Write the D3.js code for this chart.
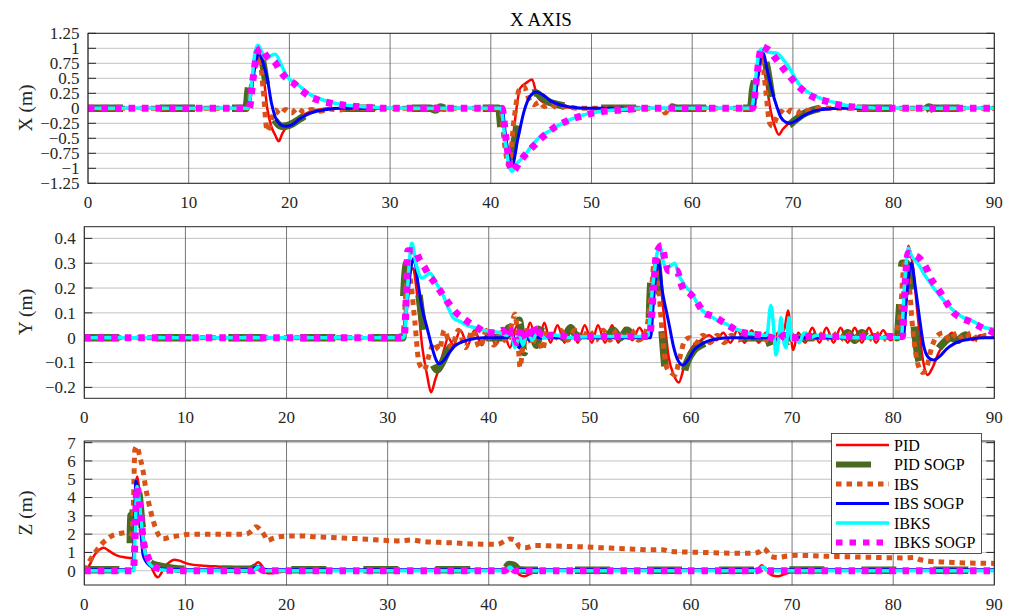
<!DOCTYPE html>
<html>
<head>
<meta charset="utf-8">
<script src="https://cdn.jsdelivr.net/npm/d3@7"></script>
<style>
  html, body { margin: 0; padding: 0; background: #ffffff; }
  svg { display: block; }
  svg text { font-family: "Liberation Serif", "Times New Roman", serif; }
</style>
</head>
<body>
<svg id="chart" width="1015" height="615"></svg>
<script>
// ---------- tick values and labels ----------
const timeTicks = [0, 10, 20, 30, 40, 50, 60, 70, 80, 90];
const xPosTicks = [-1.25, -1, -0.75, -0.5, -0.25, 0, 0.25, 0.5, 0.75, 1, 1.25];
const xPosLabels = ["\u22121.25", "\u22121", "\u22120.75", "\u22120.5", "\u22120.25", "0", "0.25", "0.5", "0.75", "1", "1.25"];
const yPosTicks = [-0.2, -0.1, 0, 0.1, 0.2, 0.3, 0.4];
const yPosLabels = ["\u22120.2", "\u22120.1", "0", "0.1", "0.2", "0.3", "0.4"];
const zPosTicks = [0, 1, 2, 3, 4, 5, 6, 7];
const zPosLabels = ["0", "1", "2", "3", "4", "5", "6", "7"];

const seriesNames = ["PID", "PID SOGP", "IBS", "IBS SOGP", "IBKS", "IBKS SOGP"];

// ---------- X position [time s, metres] ----------
const xPID = [[0,0],[15.8,0],[16.2,0.3],[16.6,0.8],[17.0,0.95],[17.4,0.6],[17.8,0.0],[18.2,-0.3],[18.6,-0.45],[18.95,-0.55],[19.3,-0.42],[19.7,-0.32],[20.3,-0.25],[21,-0.15],[22,-0.06],[23,-0.02],[24,0],[41.0,0],[41.4,-0.4],[41.9,-0.9],[42.4,-0.2],[42.9,0.33],[43.5,0.42],[44.1,0.48],[44.6,0.2],[45.2,0.1],[46,0.06],[47,0.03],[48,0.01],[49,0],[66.0,0],[66.5,0.5],[66.9,0.88],[67.3,0.5],[67.8,-0.05],[68.2,-0.3],[68.6,-0.44],[69.0,-0.35],[69.6,-0.25],[70.3,-0.17],[71,-0.08],[72,-0.02],[73,0],[90,0]];
const xPIDSOGP = [[0,0],[15.7,0],[15.9,0.3],[16.3,0.55],[16.9,0.95],[17.3,0.8],[17.8,0.3],[18.3,-0.1],[18.8,-0.25],[19.3,-0.3],[20,-0.28],[21,-0.18],[22,-0.08],[23,-0.02],[24,0],[34,0],[34.5,-0.03],[35,0.02],[35.5,0],[40.8,0],[41.0,-0.3],[41.5,-0.6],[41.9,-0.88],[42.4,-0.5],[43,-0.05],[43.7,0.2],[44.4,0.26],[45,0.2],[45.6,0.12],[46.2,0.08],[47,0.05],[48,0.02],[49,0],[57,0],[57.5,-0.04],[58,0.02],[58.5,0],[65.8,0],[66.0,0.3],[66.4,0.55],[67.0,0.9],[67.4,0.7],[67.9,0.2],[68.4,-0.15],[69,-0.26],[69.5,-0.28],[70.2,-0.2],[71,-0.1],[72,-0.03],[73,0],[81.5,0],[82,-0.04],[82.5,0.03],[83,-0.03],[83.5,0.02],[84,0],[89,0],[89.6,0.03],[90,0.02]];
const xIBS = [[0,0],[15.8,0],[16.2,0.35],[16.6,0.75],[17.0,0.9],[17.4,0.3],[17.8,-0.38],[18.2,-0.2],[18.6,-0.03],[19.1,-0.1],[19.6,-0.02],[20.2,-0.08],[20.8,0],[21.5,-0.07],[22.2,-0.02],[23,-0.05],[24,-0.01],[25,-0.03],[26,0],[33.5,0],[33.9,-0.06],[34.5,0.02],[35.2,-0.02],[36,0],[41.0,0],[41.3,-0.5],[41.8,-0.95],[42.3,-0.2],[42.8,0.3],[43.3,0.36],[43.8,0.15],[44.3,0.06],[44.8,0.1],[45.3,0.03],[46,0.06],[46.7,0],[47.5,0.03],[48.5,0],[57,0],[57.3,-0.08],[57.8,0.02],[58.5,-0.02],[59.2,0],[66.0,0],[66.4,0.45],[66.9,0.85],[67.3,0.3],[67.7,-0.25],[68.0,-0.3],[68.4,-0.15],[68.8,-0.05],[69.3,-0.1],[69.8,-0.03],[70.4,-0.08],[71,-0.02],[71.8,-0.05],[72.6,0],[83,0],[83.5,-0.05],[84.2,0.02],[85,0],[90,0]];
const xIBSSOGP = [[0,0],[15.9,0],[16.3,0.4],[16.7,0.8],[17.0,0.93],[17.4,0.75],[17.8,0.5],[18.2,0.1],[18.6,-0.15],[19.1,-0.27],[19.6,-0.3],[20.2,-0.28],[21,-0.18],[21.8,-0.1],[22.7,-0.05],[23.7,-0.02],[25,0],[41.1,0],[41.5,-0.5],[42.1,-0.96],[42.7,-0.5],[43.3,-0.05],[43.9,0.2],[44.5,0.27],[45.2,0.22],[46,0.12],[47,0.05],[48,0.02],[49.5,0],[66.1,0],[66.5,0.5],[67.0,0.93],[67.5,0.6],[68.0,0.25],[68.4,0.03],[68.8,-0.15],[69.3,-0.23],[69.7,-0.25],[70.4,-0.2],[71.1,-0.12],[72,-0.05],[73,-0.02],[75,0],[90,0]];
const xIBKS = [[0,0],[15.9,0],[16.3,0.5],[16.6,0.95],[16.9,1.05],[17.3,0.92],[17.7,0.82],[18.2,0.88],[18.6,0.9],[19.2,0.72],[19.8,0.52],[20.8,0.4],[22,0.24],[23.5,0.13],[25,0.07],[27,0.03],[29,0.01],[31,0],[41.0,0],[41.4,-0.5],[41.8,-0.95],[42.1,-1.05],[42.6,-0.92],[43.3,-0.8],[44,-0.64],[44.6,-0.52],[45.2,-0.44],[46,-0.36],[47,-0.26],[48,-0.18],[49,-0.12],[50,-0.08],[51.5,-0.04],[53,-0.02],[55,0],[65.9,0],[66.3,0.5],[66.6,0.9],[66.85,0.99],[67.3,0.95],[67.8,0.93],[68.4,0.92],[69,0.82],[69.7,0.66],[70.3,0.48],[70.8,0.36],[71.5,0.27],[72.4,0.19],[73.3,0.13],[74.1,0.1],[75,0.06],[76,0.03],[77.5,0.01],[79,0],[90,0]];
const xIBKSSOGP = [[0,0],[16.0,0],[16.4,0.5],[16.8,0.92],[17.2,1.0],[17.6,0.9],[18.0,0.82],[18.5,0.78],[19.1,0.62],[19.7,0.5],[20.4,0.42],[21.2,0.3],[22,0.2],[23,0.13],[24.3,0.08],[25.5,0.05],[26.6,0.03],[28,0.01],[30,0],[41.1,0],[41.5,-0.5],[41.9,-0.95],[42.2,-1.05],[42.9,-0.88],[43.6,-0.74],[44.3,-0.62],[45,-0.5],[45.7,-0.4],[46.4,-0.31],[47.2,-0.24],[48,-0.18],[48.8,-0.14],[49.6,-0.1],[50.5,-0.07],[52,-0.04],[53.5,-0.02],[55,0],[66.0,0],[66.4,0.5],[66.7,0.9],[66.95,1.03],[67.3,1.0],[67.7,0.96],[68.2,0.85],[68.7,0.74],[69.2,0.63],[69.6,0.55],[70.1,0.45],[70.6,0.36],[71.3,0.26],[72,0.19],[72.8,0.14],[73.5,0.11],[74.2,0.07],[74.8,0.05],[75.5,0.03],[76.2,0.02],[77.5,0],[90,0]];

// ---------- Y position ----------
const yPID = [[0,0],[31.5,0],[31.8,0.15],[32.1,0.25],[32.5,0.28],[32.9,0.18],[33.4,-0.03],[33.9,-0.15],[34.3,-0.22],[34.7,-0.17],[35.1,-0.12],[35.5,-0.06],[36.0,0.0],[36.5,-0.03],[37.2,0.03],[37.9,-0.03],[38.6,0.03],[39.3,-0.03],[40.0,0.03],[40.7,-0.03],[41.4,0.03],[42.1,-0.04],[42.8,0.05],[43.4,-0.05],[44.1,0.06],[44.8,-0.04],[45.5,0.06],[46.1,-0.02],[46.8,0.05],[47.5,-0.02],[48.1,0.05],[48.8,-0.02],[49.5,0.05],[50.2,-0.02],[50.8,0.05],[51.5,-0.02],[52.2,0.05],[52.8,-0.02],[53.5,0.04],[54.2,-0.01],[54.9,0.04],[55.6,0.0],[56.0,0.1],[56.4,0.3],[56.8,0.28],[57.3,0.1],[57.8,-0.08],[58.3,-0.15],[58.8,-0.18],[59.3,-0.12],[59.8,-0.06],[60.3,-0.03],[61,-0.01],[61.8,0.01],[62.5,-0.01],[63.2,0.02],[63.9,-0.02],[64.6,0.03],[65.3,-0.02],[66,0.03],[66.7,-0.02],[67.4,0.02],[68,-0.01],[68.6,0.02],[69.2,0.03],[69.6,0.11],[70.1,-0.05],[70.6,0.02],[71.3,-0.02],[72,0.04],[72.7,-0.02],[73.4,0.04],[74.1,-0.02],[74.8,0.04],[75.5,-0.02],[76.2,0.04],[76.9,-0.02],[77.6,0.04],[78.3,-0.02],[79,0.03],[79.7,-0.01],[80.4,0.02],[80.9,0.1],[81.3,0.3],[81.5,0.37],[81.9,0.3],[82.4,0.1],[82.9,-0.08],[83.4,-0.15],[83.9,-0.12],[84.5,-0.06],[85.1,-0.02],[85.8,0.02],[86.5,-0.02],[87.2,0.02],[87.9,-0.01],[88.6,0.01],[89.3,0],[90,0]];
const yPIDSOGP = [[0,0],[31.5,0],[31.6,0.17],[31.9,0.3],[32.5,0.3],[32.9,0.23],[33.4,0.08],[33.9,-0.05],[34.4,-0.1],[34.9,-0.13],[35.4,-0.1],[36,-0.05],[36.7,-0.02],[37.5,0],[41.5,0],[42.0,0.04],[42.5,-0.03],[43.0,0.07],[43.5,-0.06],[44.1,0.06],[44.7,-0.03],[45.3,0.05],[46,0],[46.7,0.04],[47.4,0.0],[48.1,0.04],[48.8,0.0],[49.5,0.03],[50.2,0.0],[50.9,0.03],[51.6,0.0],[52.3,0.03],[53,0.0],[53.7,0.03],[54.4,0.0],[55.1,0.02],[55.8,0.02],[56.0,0.2],[56.3,0.34],[56.7,0.3],[57.1,0.05],[57.6,-0.15],[58.1,-0.13],[58.6,-0.14],[59.1,-0.16],[59.6,-0.1],[60.3,-0.05],[61,-0.03],[62,-0.01],[63,0],[67.5,0],[68,-0.04],[68.5,0.02],[69,-0.03],[69.5,0],[72,0],[72.7,0.02],[73.4,-0.01],[74.1,0.02],[74.8,-0.01],[75.5,0.02],[76.2,-0.01],[76.9,0.02],[77.6,0],[78.3,0.02],[79,0],[79.7,0.02],[80.4,0],[80.6,0.1],[80.9,0.3],[81.3,0.3],[81.7,0.22],[82.2,0.0],[82.6,-0.1],[83.0,-0.13],[83.5,-0.1],[84.2,-0.06],[85,-0.02],[85.7,0],[86.4,-0.01],[87.1,0.01],[88,0],[90,0]];
const yIBS = [[0,0],[31.5,0],[31.8,0.18],[32.0,0.28],[32.3,0.22],[32.7,0.06],[33.1,-0.1],[33.6,-0.13],[34.1,-0.07],[34.6,-0.02],[35.1,-0.05],[35.6,0.03],[36.3,-0.04],[37,0.03],[37.7,-0.04],[38.4,0.03],[39.1,-0.04],[39.8,0.03],[40.5,-0.03],[41.2,0.02],[41.8,-0.02],[42.3,0.06],[42.6,0.095],[42.9,-0.02],[43.1,-0.12],[43.4,-0.02],[43.8,0.03],[44.3,-0.03],[44.8,0.04],[45.3,-0.05],[45.8,0.03],[46.4,-0.01],[47.1,0.03],[47.8,-0.01],[48.5,0.03],[49.2,-0.01],[49.9,0.03],[50.6,-0.01],[51.3,0.03],[52,-0.01],[52.7,0.03],[53.4,-0.01],[54.1,0.03],[54.8,-0.01],[55.5,0.02],[56.0,0.15],[56.4,0.31],[56.8,0.2],[57.2,0.0],[57.6,-0.12],[58.0,-0.14],[58.4,-0.15],[58.9,-0.08],[59.4,-0.01],[59.9,0.0],[60.5,-0.02],[61.2,0.01],[61.9,-0.02],[62.6,0.01],[63.3,-0.02],[64,0.01],[64.7,-0.01],[65.4,0.01],[66.1,-0.01],[66.8,0.01],[67.5,-0.01],[68.2,-0.02],[68.9,0.02],[69.6,-0.02],[70.3,0.02],[71,-0.01],[71.7,0.02],[72.4,-0.01],[73.1,0.02],[73.8,-0.01],[74.5,0.02],[75.2,-0.01],[75.9,0.02],[76.6,-0.01],[77.3,0.02],[78,-0.01],[78.7,0.02],[79.4,-0.01],[80.1,0.01],[80.7,0.1],[81.1,0.3],[81.5,0.25],[81.9,0.05],[82.4,-0.1],[82.9,-0.14],[83.3,-0.12],[83.8,-0.04],[84.4,0.01],[85,0.02],[85.6,-0.01],[86.3,0.02],[87,-0.01],[87.7,0.02],[88.4,-0.01],[89.1,0.01],[90,0.01]];
const yIBSSOGP = [[0,0],[31.6,0],[31.9,0.12],[32.3,0.28],[32.6,0.32],[33.0,0.22],[33.4,0.12],[33.9,0.04],[34.4,-0.04],[34.8,-0.09],[35.1,-0.105],[35.6,-0.09],[36.1,-0.06],[36.6,-0.035],[37.2,-0.02],[38,-0.008],[39.5,0],[41.8,0],[42.2,0.02],[42.6,-0.01],[43.0,-0.04],[43.5,0.02],[44,-0.01],[44.5,0.01],[45,0],[56.0,0],[56.3,0.15],[56.6,0.28],[56.8,0.3],[57.2,0.18],[57.6,0.1],[57.9,0.04],[58.3,-0.04],[58.7,-0.09],[59.2,-0.11],[59.7,-0.09],[60.3,-0.05],[60.9,-0.03],[61.6,-0.015],[62.5,-0.005],[64,0],[67.8,0],[68.3,-0.01],[69,0.01],[69.5,0],[81.0,0],[81.3,0.15],[81.6,0.27],[81.8,0.3],[82.2,0.2],[82.6,0.08],[83.0,-0.03],[83.5,-0.08],[84,-0.09],[84.6,-0.075],[85.3,-0.045],[86,-0.025],[86.8,-0.012],[87.7,-0.005],[89,0],[90,0]];
const yIBKS = [[0,0],[31.6,0],[31.9,0.15],[32.2,0.33],[32.4,0.38],[32.8,0.3],[33.4,0.24],[33.8,0.25],[34.2,0.26],[34.8,0.22],[35.5,0.17],[36.0,0.12],[36.5,0.08],[37.2,0.065],[37.8,0.05],[38.7,0.04],[39.5,0.03],[40.3,0.025],[41.1,0.02],[41.8,0.01],[42.2,0.02],[42.6,-0.04],[43.0,0.01],[43.4,-0.03],[43.8,0.02],[44.3,-0.01],[44.8,0.02],[45.5,0],[46.5,0.01],[48,0],[50,0.005],[55.7,0.005],[56.2,0.2],[56.6,0.33],[56.9,0.37],[57.3,0.3],[57.6,0.28],[58.0,0.29],[58.4,0.3],[58.8,0.25],[59.1,0.23],[59.6,0.2],[60.1,0.18],[60.6,0.14],[61.1,0.11],[61.6,0.095],[62.2,0.08],[62.8,0.065],[63.5,0.055],[64.1,0.04],[64.8,0.03],[65.5,0.02],[66.2,0.015],[66.9,0.01],[67.5,0.01],[67.9,0.13],[68.2,0.03],[68.4,-0.07],[68.7,0.0],[68.9,0.08],[69.2,-0.02],[69.4,-0.04],[69.7,0.08],[70.0,-0.01],[70.3,0.0],[70.7,-0.02],[71.2,0.02],[71.8,0],[72.5,0.01],[74,0.005],[76,0],[80.8,0],[81.1,0.2],[81.5,0.36],[81.8,0.33],[82.2,0.31],[82.6,0.29],[83.0,0.26],[83.5,0.23],[84.0,0.2],[84.5,0.175],[85.0,0.15],[85.7,0.12],[86.4,0.095],[87.0,0.08],[87.7,0.07],[88.4,0.055],[89.1,0.04],[90,0.035]];
const yIBKSSOGP = [[0,0],[31.6,0],[31.75,0.06],[32.0,0.35],[32.4,0.35],[32.7,0.35],[33.2,0.31],[33.7,0.28],[34.1,0.25],[34.5,0.23],[35,0.2],[35.5,0.17],[36.1,0.135],[36.8,0.1],[37.4,0.08],[38.1,0.06],[38.9,0.04],[39.8,0.02],[40.6,0.02],[41.4,0.03],[41.9,0.0],[42.4,0.03],[42.8,-0.02],[43.3,0.04],[43.8,-0.01],[44.3,0.05],[44.8,0.0],[45.3,0.03],[46,0.01],[47,0.01],[48,0.0],[50,0.005],[55.9,0.005],[56.3,0.2],[56.6,0.34],[57.1,0.37],[57.5,0.3],[57.8,0.27],[58.2,0.27],[58.6,0.27],[59.0,0.22],[59.3,0.19],[59.8,0.18],[60.3,0.16],[60.8,0.13],[61.3,0.1],[61.9,0.09],[62.5,0.08],[63.1,0.065],[63.8,0.047],[64.5,0.03],[65.2,0.02],[66,0.015],[67,0.01],[68,0.0],[68.6,-0.01],[69.2,0.01],[70,0],[72,0.005],[80.9,0.005],[81.2,0.23],[81.5,0.34],[82.2,0.33],[82.6,0.32],[83.0,0.3],[83.4,0.27],[83.7,0.24],[84.2,0.21],[84.7,0.18],[85.3,0.14],[86,0.1],[86.7,0.08],[87.4,0.068],[88.1,0.055],[88.8,0.04],[89.4,0.03],[90,0.02]];

// ---------- Z position ----------
const zPID = [[0,0],[0.5,0.3],[1.0,0.85],[1.5,1.15],[1.9,1.25],[2.4,1.1],[2.9,0.92],[3.4,0.8],[3.9,0.74],[4.5,0.7],[4.8,0.7],[4.95,2.5],[5.1,4.8],[5.25,5.15],[5.5,4.0],[5.8,2.2],[6.1,0.9],[6.5,0.37],[6.8,0.0],[7.1,-0.3],[7.3,-0.35],[7.6,-0.15],[7.9,0.2],[8.4,0.45],[8.9,0.6],[9.4,0.55],[10.1,0.4],[10.8,0.32],[11.5,0.28],[12.5,0.25],[13.5,0.22],[14.5,0.2],[15.5,0.18],[16.3,0.18],[16.8,0.3],[17.2,0.46],[17.6,0.25],[18.0,-0.12],[18.5,-0.14],[19,-0.09],[19.7,-0.05],[20.5,0],[41.5,0],[42,0.15],[42.5,0.1],[43,-0.2],[43.5,-0.3],[44,-0.2],[44.6,-0.05],[45.5,0],[66.5,0],[67.0,0.3],[67.5,0.0],[68.0,-0.25],[68.6,-0.3],[69.2,-0.2],[70,-0.05],[71,0],[90,0]];
const zPIDSOGP = [[0,0.05],[4.5,0.05],[4.6,3.0],[4.8,3.1],[5.0,4.5],[5.1,4.8],[5.4,4.2],[5.7,2.5],[6.0,1.2],[6.3,0.55],[6.8,0.35],[7.5,0.25],[8.5,0.15],[10,0.08],[16.5,0.08],[17.2,0.3],[17.8,0.1],[18.5,0.05],[41.5,0.05],[42,0.34],[42.5,0.3],[43,0.05],[44,0.02],[66.5,0.03],[67,0.2],[67.5,0.05],[90,0.02]];
const zIBS = [[0,0],[0.6,0.6],[1.2,1.1],[1.7,1.45],[2.2,1.7],[2.7,1.9],[3.2,2.0],[3.7,2.05],[4.2,2.08],[4.7,2.0],[4.85,3.5],[5.0,6.6],[5.2,6.8],[5.5,6.2],[5.8,5.5],[6.05,4.6],[6.3,3.9],[6.8,2.76],[7.3,2.0],[7.8,1.75],[8.5,1.84],[9.5,1.93],[10.5,2.0],[12,2.0],[14,2.0],[16,2.0],[16.5,2.15],[17.0,2.4],[17.4,2.25],[17.8,1.95],[18.1,1.65],[18.6,1.75],[19.2,1.85],[20.3,1.9],[21.5,1.9],[23,1.85],[24.5,1.82],[26.3,1.77],[28,1.72],[29.6,1.66],[31,1.63],[32.4,1.68],[33.4,1.6],[35,1.55],[36.5,1.52],[37.8,1.48],[39.3,1.45],[40.8,1.44],[41.6,1.62],[42.1,1.74],[42.6,1.68],[43.1,1.28],[43.6,1.25],[44.6,1.38],[46,1.36],[47.7,1.33],[49.5,1.3],[51,1.26],[52.7,1.22],[54.4,1.18],[56.1,1.14],[57.2,1.15],[57.8,1.07],[59.5,1.02],[61.1,1.0],[63,0.97],[64.8,0.95],[66.2,0.95],[66.8,1.05],[67.2,1.22],[67.6,1.0],[67.9,0.78],[68.6,0.72],[69.5,0.8],[70.6,0.84],[72,0.82],[73.5,0.79],[75,0.77],[76.3,0.75],[78,0.73],[79.7,0.71],[81,0.7],[82,0.72],[82.7,0.6],[83.5,0.52],[84.7,0.48],[86,0.45],[87.5,0.42],[89,0.41],[90,0.4]];
const zIBSSOGP = [[0,0.06],[4.85,0.06],[4.95,2.0],[5.1,4.9],[5.3,4.3],[5.55,2.6],[5.8,0.9],[6.1,0.5],[6.5,0.27],[7,0.15],[7.5,0.09],[9,0.06],[16.5,0.06],[17.2,0.25],[17.8,0.08],[18.5,0.05],[41.5,0.05],[42.1,0.2],[42.7,0.05],[66.5,0.05],[67.1,0.2],[67.6,0.05],[90,0.05]];
const zIBKS = [[0,0],[4.9,0],[5.0,1.5],[5.2,4.6],[5.4,4.0],[5.7,2.3],[6.0,1.0],[6.3,0.5],[6.8,0.2],[7.5,0.05],[9,0],[16.7,0],[17.2,0.2],[17.7,0.0],[41.6,0],[42.1,0.2],[42.6,0],[66.6,0],[67.1,0.2],[67.6,0],[90,0]];
const zIBKSSOGP = [[0,0],[4.85,0],[5.0,1.5],[5.2,4.6],[5.5,3.5],[5.8,1.8],[6.3,0.74],[6.8,0.28],[7.5,0.1],[8.5,0.02],[10,0],[16.7,0],[17.2,0.2],[17.7,0.0],[41.6,0],[42.1,0.2],[42.6,0],[66.6,0],[67.1,0.15],[67.6,0],[90,0]];

// ---------- styling ----------
const lineStyles = [
  { color: "#ff0000", width: 2.5, dash: null },
  { color: "#4a6a22", width: 7.5, dash: "35,37" },
  { color: "#d95319", width: 5,   dash: "5.5,5" },
  { color: "#0000ff", width: 3,   dash: null },
  { color: "#00ffff", width: 3.5, dash: null },
  { color: "#ff00ff", width: 7,   dash: "6.5,7" }
];
const FONT = "Liberation Serif";
const TEXT_COLOR = "#262626";

const panels = [
  { id: "px", left: 88,   right: 994.3, top: 33.3,  bottom: 183.3, domain: [-1.25, 1.25],
    ticks: xPosTicks, labels: xPosLabels, title: "X (m)", labelY: 108,
    series: [xPID, xPIDSOGP, xIBS, xIBSSOGP, xIBKS, xIBKSSOGP] },
  { id: "py", left: 84.3, right: 994.3, top: 226.7, bottom: 398.3, domain: [-0.244, 0.447],
    ticks: yPosTicks, labels: yPosLabels, title: "Y (m)", labelY: 312,
    series: [yPID, yPIDSOGP, yIBS, yIBSSOGP, yIBKS, yIBKSSOGP] },
  { id: "pz", left: 84.3, right: 994.3, top: 441,   bottom: 585,   domain: [-0.78, 7.09],
    ticks: zPosTicks, labels: zPosLabels, title: "Z (m)", labelY: 513,
    series: [zPID, zPIDSOGP, zIBS, zIBSSOGP, zIBKS, zIBKSSOGP] }
];

const svg = d3.select("#chart");
const defs = svg.append("defs");

panels.forEach(p => {
  const x = d3.scaleLinear().domain([0, 90]).range([p.left, p.right]);
  const y = d3.scaleLinear().domain(p.domain).range([p.bottom, p.top]);
  const g = svg.append("g");

  // horizontal grid
  g.selectAll("line.hgrid").data(p.ticks).join("line")
    .attr("x1", p.left).attr("x2", p.right)
    .attr("y1", d => y(d)).attr("y2", d => y(d))
    .attr("stroke", "#c2c2c2").attr("stroke-width", 1);
  // vertical grid
  g.selectAll("line.vgrid").data(timeTicks).join("line")
    .attr("x1", d => x(d)).attr("x2", d => x(d))
    .attr("y1", p.top).attr("y2", p.bottom)
    .attr("stroke", "#6a6a6a").attr("stroke-width", 0.9);

  // inside tick marks on left and right
  const tl = 8;
  p.ticks.forEach(t => {
    g.append("line").attr("x1", p.left).attr("x2", p.left + tl)
      .attr("y1", y(t)).attr("y2", y(t)).attr("stroke", TEXT_COLOR).attr("stroke-width", 1);
    g.append("line").attr("x1", p.right - tl).attr("x2", p.right)
      .attr("y1", y(t)).attr("y2", y(t)).attr("stroke", TEXT_COLOR).attr("stroke-width", 1);
  });

  // clipped data lines
  const clipId = "clip-" + p.id;
  defs.append("clipPath").attr("id", clipId).append("rect")
    .attr("x", p.left).attr("y", p.top)
    .attr("width", p.right - p.left).attr("height", p.bottom - p.top);
  const line = d3.line().x(d => x(d[0])).y(d => y(d[1])).curve(d3.curveMonotoneX);
  const lg = g.append("g").attr("clip-path", `url(#${clipId})`);
  p.series.forEach((s, i) => {
    const st = lineStyles[i];
    lg.append("path").datum(s).attr("d", line)
      .attr("fill", "none").attr("stroke", st.color)
      .attr("stroke-width", st.width)
      .attr("stroke-dasharray", st.dash)
      .attr("stroke-linejoin", "round");
  });

  // axes box
  g.append("rect").attr("x", p.left).attr("y", p.top)
    .attr("width", p.right - p.left).attr("height", p.bottom - p.top)
    .attr("fill", "none").attr("stroke", TEXT_COLOR).attr("stroke-width", 1);

  // tick labels
  g.selectAll("text.yt").data(p.ticks).join("text")
    .attr("x", p.left - 8.5).attr("y", d => y(d)).attr("dy", "0.35em")
    .attr("text-anchor", "end").style("font-family", FONT).style("font-size", "17px")
    .attr("fill", TEXT_COLOR).text((d, i) => p.labels[i]);
  g.selectAll("text.xt").data(timeTicks).join("text")
    .attr("x", d => x(d)).attr("y", p.bottom + 25)
    .attr("text-anchor", "middle").style("font-family", FONT).style("font-size", "17px")
    .attr("fill", TEXT_COLOR).text(d => String(d));

  // y axis label
  g.append("text").attr("transform", `translate(25,${p.labelY}) rotate(-90)`)
    .attr("text-anchor", "middle").attr("dy", "0.35em")
    .style("font-family", FONT).style("font-size", "19.5px").attr("fill", TEXT_COLOR)
    .text(p.title);
});

// title
svg.append("text").attr("x", 541).attr("y", 26)
  .attr("text-anchor", "middle").style("font-family", FONT).style("font-size", "19px")
  .attr("fill", "#000").text("X AXIS");

// legend
const legend = svg.append("g");
legend.append("rect").attr("x", 831.5).attr("y", 433.5).attr("width", 150).attr("height", 120)
  .attr("fill", "#ffffff").attr("stroke", TEXT_COLOR).attr("stroke-width", 0.8);
seriesNames.forEach((name, i) => {
  const yy = 445 + i * 19.5;
  const st = lineStyles[i];
  legend.append("line").attr("x1", 836).attr("x2", 889).attr("y1", yy).attr("y2", yy)
    .attr("stroke", st.color).attr("stroke-width", Math.min(st.width, 6))
    .attr("stroke-dasharray", st.dash);
  legend.append("text").attr("x", 894).attr("y", yy).attr("dy", "0.35em")
    .style("font-family", FONT).style("font-size", "16px").attr("fill", "#000").text(name);
});
</script>
</body>
</html>
